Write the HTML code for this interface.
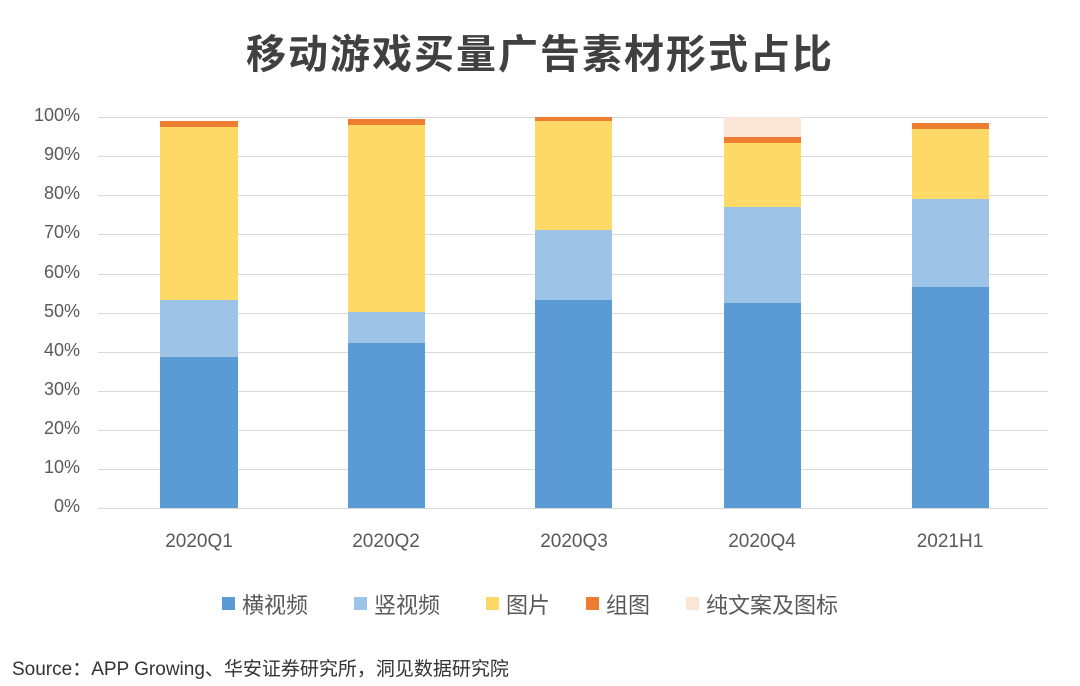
<!DOCTYPE html>
<html><head><meta charset="utf-8"><style>
body{margin:0;width:1080px;height:686px;background:#fff;position:relative;overflow:hidden;font-family:"Liberation Sans","Noto Sans CJK SC",sans-serif;}
.a{position:absolute}
.t{left:0;width:1080px;text-align:center;top:22px;font-size:40px;font-weight:bold;color:#404040;letter-spacing:2px}
.g{left:98px;width:950px;height:1px;background:#d9d9d9}
.yl{left:0;width:80px;text-align:right;font-size:18px;color:#595959}
.xl{font-size:19px;color:#595959;width:120px;text-align:center;top:531px}
.sq{width:13px;height:13px;top:597px}
.lg{font-size:22px;color:#595959;top:588px}
</style></head><body>
<div class="a t">移动游戏买量广告素材形式占比</div>
<div class="a g" style="top:117px"></div><div class="a g" style="top:156px"></div><div class="a g" style="top:195px"></div><div class="a g" style="top:234px"></div><div class="a g" style="top:274px"></div><div class="a g" style="top:313px"></div><div class="a g" style="top:352px"></div><div class="a g" style="top:391px"></div><div class="a g" style="top:430px"></div><div class="a g" style="top:469px"></div><div class="a g" style="top:508px"></div>
<div class="a yl" style="top:105px">100%</div><div class="a yl" style="top:144px">90%</div><div class="a yl" style="top:183px">80%</div><div class="a yl" style="top:222px">70%</div><div class="a yl" style="top:262px">60%</div><div class="a yl" style="top:301px">50%</div><div class="a yl" style="top:340px">40%</div><div class="a yl" style="top:379px">30%</div><div class="a yl" style="top:418px">20%</div><div class="a yl" style="top:457px">10%</div><div class="a yl" style="top:496px">0%</div>
<svg class="a" style="left:0;top:0" width="1080" height="686">
<g>
<rect x="160" y="357" width="78" height="151" fill="#5B9BD5"/><rect x="160" y="300" width="78" height="57" fill="#9DC3E6"/><rect x="160" y="127" width="78" height="173" fill="#FFD966"/><rect x="160" y="121" width="78" height="6" fill="#ED7D31"/>
<rect x="348" y="343" width="77" height="165" fill="#5B9BD5"/><rect x="348" y="312" width="77" height="31" fill="#9DC3E6"/><rect x="348" y="125" width="77" height="187" fill="#FFD966"/><rect x="348" y="119" width="77" height="6" fill="#ED7D31"/>
<rect x="535" y="300" width="77" height="208" fill="#5B9BD5"/><rect x="535" y="230" width="77" height="70" fill="#9DC3E6"/><rect x="535" y="121" width="77" height="109" fill="#FFD966"/><rect x="535" y="117" width="77" height="4" fill="#ED7D31"/>
<rect x="724" y="303" width="77" height="205" fill="#5B9BD5"/><rect x="724" y="207" width="77" height="96" fill="#9DC3E6"/><rect x="724" y="143" width="77" height="64" fill="#FFD966"/><rect x="724" y="137" width="77" height="6" fill="#ED7D31"/><rect x="724" y="117" width="77" height="20" fill="#FBE5D6"/>
<rect x="912" y="287" width="77" height="221" fill="#5B9BD5"/><rect x="912" y="199" width="77" height="88" fill="#9DC3E6"/><rect x="912" y="129" width="77" height="70" fill="#FFD966"/><rect x="912" y="123" width="77" height="6" fill="#ED7D31"/>
</g>
</svg>
<div class="a xl" style="left:139px">2020Q1</div><div class="a xl" style="left:326px">2020Q2</div><div class="a xl" style="left:514px">2020Q3</div><div class="a xl" style="left:702px">2020Q4</div><div class="a xl" style="left:890px">2021H1</div>
<div class="a sq" style="left:222px;background:#5B9BD5"></div><div class="a lg" style="left:242px">横视频</div>
<div class="a sq" style="left:354px;background:#9DC3E6"></div><div class="a lg" style="left:374px">竖视频</div>
<div class="a sq" style="left:486px;background:#FFD966"></div><div class="a lg" style="left:506px">图片</div>
<div class="a sq" style="left:586px;background:#ED7D31"></div><div class="a lg" style="left:606px">组图</div>
<div class="a sq" style="left:686px;background:#FBE5D6"></div><div class="a lg" style="left:706px">纯文案及图标</div>
<div class="a" style="left:12px;top:654px;font-size:19px;color:#333">Source：APP Growing、华安证券研究所，洞见数据研究院</div>
</body></html>
